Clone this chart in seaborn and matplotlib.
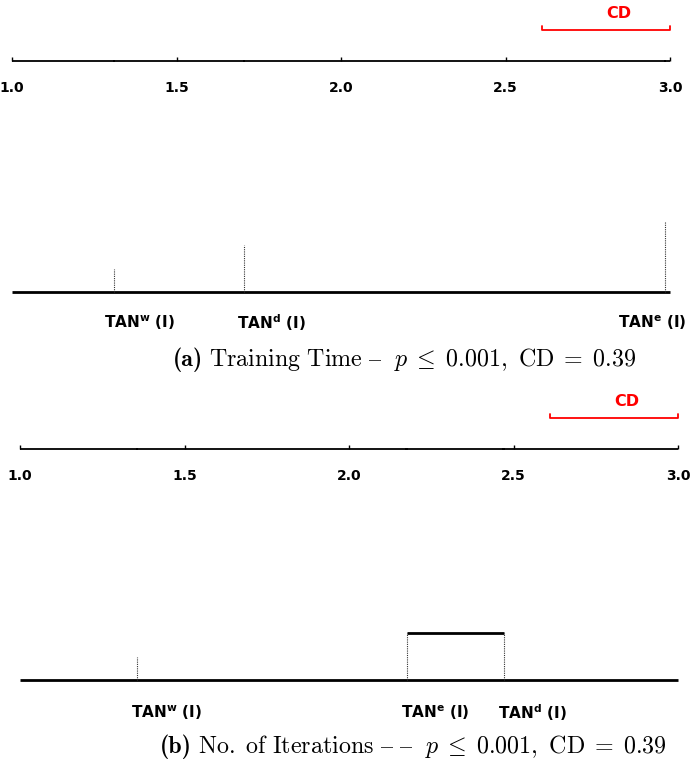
import numpy as np
import matplotlib
matplotlib.use("Agg")
import matplotlib.pyplot as plt
import seaborn as sns

# ---------------- data ----------------
methods_a = ["TAN$^{\\mathbf{w}}$ (I)", "TAN$^{\\mathbf{d}}$ (I)", "TAN$^{\\mathbf{e}}$ (I)"]
ranks_a = [1.31, 1.705, 2.985]
tag_a = "(a)"
caption_a = r"$\mathrm{Training\ Time}\ \endash\ \ p\;\leq\;0.001,\ \mathrm{CD}\;=\;0.39$"

methods_b = ["TAN$^{\\mathbf{w}}$ (I)", "TAN$^{\\mathbf{e}}$ (I)", "TAN$^{\\mathbf{d}}$ (I)"]
ranks_b = [1.355, 2.175, 2.47]
tag_b = "(b)"
caption_b = r"$\mathrm{No.\ of\ Iterations}\ \endash\ \endash\ \ p\;\leq\;0.001,\ \mathrm{CD}\;=\;0.39$"

cd_value = 0.39
tick_values = [1.0, 1.5, 2.0, 2.5, 3.0]
tick_labels = ["1.0", "1.5", "2.0", "2.5", "3.0"]
cliques_b = [(2.175, 2.47)]

# ---------------- figure ----------------
sns.set_theme(style="white")
plt.rcParams["font.family"] = ["DejaVu Sans"]
plt.rcParams["text.color"] = "black"
W, H = 691, 763
fig = plt.figure(figsize=(W / 100, H / 100), dpi=100)

PX = 329.0  # pixels per rank unit
captions = []


def panel(y0, y1, x_one, axis_y, cd_y, base_y, lab_y, cap_y, cap_left,
          methods, ranks, levels, label_dx, label_ha, cliques, tag, caption):
    ax = fig.add_axes([0, (H - y1) / H, 1, (y1 - y0) / H])
    ax.set_xlim(1 - x_one / PX, 1 + (W - x_one) / PX)
    ax.set_ylim(y1, y0)
    ax.axis("off")
    # rank axis
    ax.hlines(axis_y, 1.0, 3.0, color="black", lw=1.3)
    ax.vlines(tick_values, axis_y, axis_y - 4, color="black", lw=1.0)
    sns.scatterplot(x=ranks, y=[axis_y] * len(ranks), ax=ax, marker="s",
                    s=3, color="black", edgecolor="none", legend=False)
    for v, t in zip(tick_values, tick_labels):
        ax.text(v, axis_y + 27, t, ha="center", va="center",
                fontsize=10, fontweight="bold", color="black")
    # CD bar
    ax.plot([3.0 - cd_value, 3.0 - cd_value, 3.0, 3.0],
            [cd_y - 4, cd_y, cd_y, cd_y - 4], color="red", lw=1.3)
    ax.text(3.0 - cd_value / 2 + 13 / PX, cd_y - 16, "CD", ha="center",
            va="center", fontsize=11.5, fontweight="bold", color="red")
    # bottom line
    ax.hlines(base_y, 1.0, 3.0, color="black", lw=2.0)
    for r, lv in zip(ranks, levels):
        ax.vlines(r, base_y, base_y - 23.5 * lv, color="#333333", lw=0.8,
                  linestyles=(0, (1, 1)))
    for a, b in cliques:
        ax.hlines(base_y - 47, a, b, color="black", lw=2.0)
    for r, m, dx, ha in zip(ranks, methods, label_dx, label_ha):
        ax.text(r + dx / PX, lab_y, m, ha=ha, va="center", fontsize=11,
                fontweight="bold", color="black", math_fontfamily="dejavusans")
    t1 = ax.text(1 + (cap_left - x_one) / PX, cap_y, tag, ha="left",
                 va="baseline", fontsize=17.3, family="cmb10", color="black")
    captions.append((ax, t1, caption, cap_y))
    return ax


panel(0, 380, 12, 61, 30, 292, 323, 366, 173,
      methods_a, ranks_a, [1, 2, 3], [-10, -7, 21], ["left", "left", "right"],
      [], tag_a, caption_a)
panel(380, 763, 20, 449, 418, 680, 713, 753, 160,
      methods_b, ranks_b, [1, 2, 2], [-6, -6, -6], ["left", "left", "left"],
      cliques_b, tag_b, caption_b)

fig.canvas.draw()
renderer = fig.canvas.get_renderer()
for ax, t1, caption, cap_y in captions:
    bb = t1.get_window_extent(renderer)
    xd = ax.transData.inverted().transform((bb.x1 + 6, bb.y0))[0]
    ax.text(xd, cap_y, caption, ha="left", va="baseline", fontsize=17.3,
            color="black", math_fontfamily="cm")

fig.savefig("out.png", dpi=100)
